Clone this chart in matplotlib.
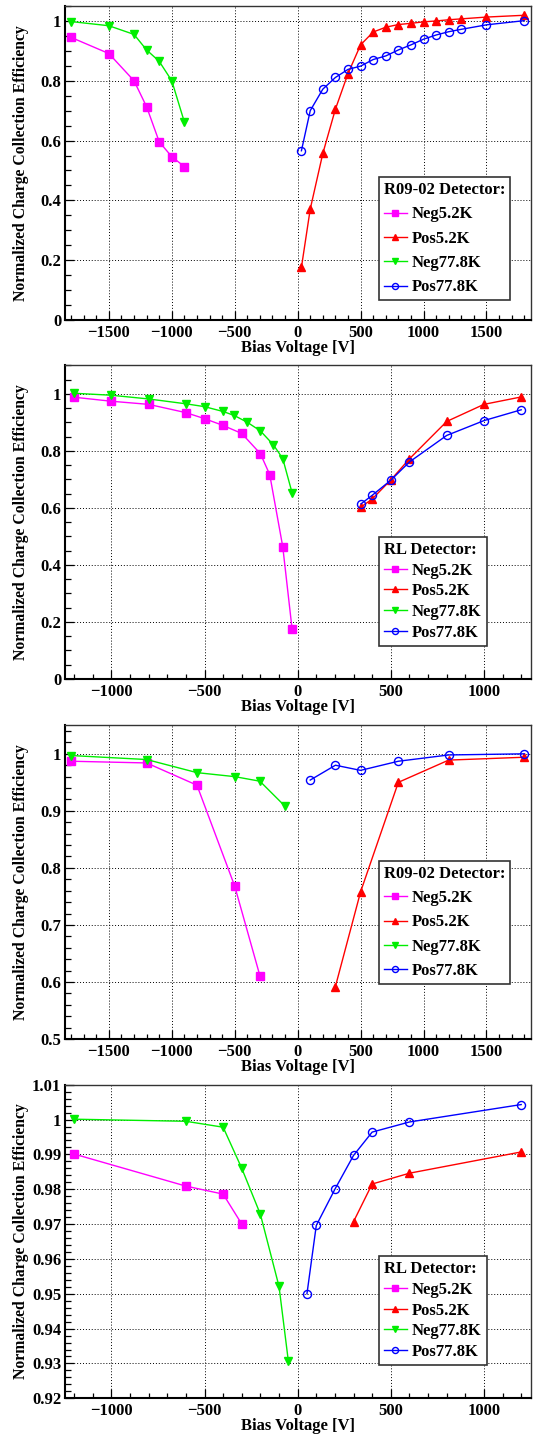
import numpy as np
import matplotlib
matplotlib.use("Agg")
import matplotlib.pyplot as plt
from matplotlib.ticker import MultipleLocator, FuncFormatter

plt.rcParams['font.family'] = ['Liberation Serif', 'DejaVu Serif']
plt.rcParams['font.weight'] = 'bold'
plt.rcParams['axes.labelweight'] = 'bold'

# ---- panel 1: R09-02, wide range ----
p1_neg52_v = [-1800, -1500, -1300, -1200, -1100, -1000, -900]
p1_neg52_e = [0.945, 0.891, 0.800, 0.713, 0.596, 0.546, 0.513]
p1_neg78_v = [-1800, -1500, -1300, -1200, -1100, -1000, -900]
p1_neg78_e = [0.998, 0.984, 0.955, 0.903, 0.865, 0.800, 0.662]
p1_pos52_v = [30, 100, 200, 300, 400, 500, 600, 700, 800, 900, 1000, 1100, 1200, 1300, 1500, 1800]
p1_pos52_e = [0.176, 0.371, 0.557, 0.705, 0.824, 0.920, 0.963, 0.979, 0.988, 0.992,
              0.997, 1.000, 1.004, 1.007, 1.013, 1.019]
p1_pos78_v = [30, 100, 200, 300, 400, 500, 600, 700, 800, 900, 1000, 1100, 1200, 1300, 1500, 1800]
p1_pos78_e = [0.566, 0.700, 0.772, 0.811, 0.838, 0.849, 0.871, 0.883, 0.903, 0.920,
              0.939, 0.953, 0.964, 0.972, 0.987, 1.001]

# ---- panel 2: RL ----
p2_neg52_v = [-1200, -1000, -800, -600, -500, -400, -300, -200, -150, -80, -30]
p2_neg52_e = [0.988, 0.974, 0.963, 0.934, 0.913, 0.889, 0.861, 0.790, 0.717, 0.464, 0.176]
p2_neg78_v = [-1200, -1000, -800, -600, -500, -400, -340, -270, -200, -130, -80, -30]
p2_neg78_e = [1.002, 0.995, 0.982, 0.965, 0.955, 0.938, 0.924, 0.900, 0.870, 0.821, 0.773, 0.653]
p2_pos52_v = [340, 400, 500, 600, 800, 1000, 1200]
p2_pos52_e = [0.603, 0.631, 0.698, 0.772, 0.903, 0.963, 0.989]
p2_pos78_v = [340, 400, 500, 600, 800, 1000, 1200]
p2_pos78_e = [0.614, 0.644, 0.697, 0.761, 0.854, 0.906, 0.944]

# ---- panel 3: R09-02, zoomed ----
p3_neg52_v = [-1800, -1200, -800, -500, -300]
p3_neg52_e = [0.987, 0.984, 0.945, 0.768, 0.611]
p3_neg78_v = [-1800, -1200, -800, -500, -300, -100]
p3_neg78_e = [0.997, 0.990, 0.967, 0.960, 0.952, 0.908]
p3_pos52_v = [300, 500, 800, 1200, 1800]
p3_pos52_e = [0.592, 0.758, 0.950, 0.989, 0.994]
p3_pos78_v = [100, 300, 500, 800, 1200, 1800]
p3_pos78_e = [0.954, 0.980, 0.971, 0.987, 0.998, 1.000]

# ---- panel 4: RL, zoomed ----
p4_neg52_v = [-1200, -600, -400, -300]
p4_neg52_e = [0.9901, 0.9809, 0.9786, 0.9700]
p4_neg78_v = [-1200, -600, -400, -300, -200, -100, -50]
p4_neg78_e = [1.0001, 0.9995, 0.9978, 0.9860, 0.9728, 0.9521, 0.9307]
p4_pos52_v = [300, 400, 600, 1200]
p4_pos52_e = [0.9707, 0.9815, 0.9846, 0.9907]
p4_pos78_v = [50, 100, 200, 300, 400, 600, 1200]
p4_pos78_e = [0.9500, 0.9696, 0.9800, 0.9897, 0.9964, 0.9993, 1.0043]

labels = ["Neg5.2K", "Pos5.2K", "Neg77.8K", "Pos77.8K"]
styles = [dict(color="#ff00ff", marker="s", ms=5.2, mfc="#ff00ff"),
          dict(color="#ff0000", marker="^", ms=5.2, mfc="#ff0000"),
          dict(color="#00ee00", marker="v", ms=5.2, mfc="#00ee00"),
          dict(color="#0000ff", marker="o", ms=5.8, mfc="none", mew=1.0)]

panels = [
    dict(data=[(p1_neg52_v, p1_neg52_e), (p1_pos52_v, p1_pos52_e),
               (p1_neg78_v, p1_neg78_e), (p1_pos78_v, p1_pos78_e)],
         xlim=(-1850, 1850), ylim=(0, 1.05), ymaj=0.2, ymin=0.05,
         title="R09-02 Detector:", leg_y=0.455, lsp=0.5, top=6, bot=320),
    dict(data=[(p2_neg52_v, p2_neg52_e), (p2_pos52_v, p2_pos52_e),
               (p2_neg78_v, p2_neg78_e), (p2_pos78_v, p2_pos78_e)],
         xlim=(-1250, 1250), ylim=(0, 1.1), ymaj=0.2, ymin=0.05,
         title="RL Detector:", leg_y=0.453, lsp=0.28, top=365.3, bot=679),
    dict(data=[(p3_neg52_v, p3_neg52_e), (p3_pos52_v, p3_pos52_e),
               (p3_neg78_v, p3_neg78_e), (p3_pos78_v, p3_pos78_e)],
         xlim=(-1850, 1850), ylim=(0.5, 1.05), ymaj=0.1, ymin=0.02,
         title="R09-02 Detector:", leg_y=0.568, lsp=0.5, top=725.3, bot=1039),
    dict(data=[(p4_neg52_v, p4_neg52_e), (p4_pos52_v, p4_pos52_e),
               (p4_neg78_v, p4_neg78_e), (p4_pos78_v, p4_pos78_e)],
         xlim=(-1250, 1250), ylim=(0.92, 1.01), ymaj=0.01, ymin=0.002,
         title="RL Detector:", leg_y=0.453, lsp=0.28, top=1084.7, bot=1398.3),
]

W, H = 535, 1435
fig = plt.figure(figsize=(W / 100, H / 100), dpi=100)
fmt = FuncFormatter(lambda v, p: ("%g" % round(v, 6)).replace("-", "\u2212"))

for P in panels:
    x0, x1 = 64.8, 530.5
    ax = fig.add_axes([x0 / W, 1 - P["bot"] / H, (x1 - x0) / W, (P["bot"] - P["top"]) / H])
    for (v, e), lab, st in zip(P["data"], labels, styles):
        ax.plot(v, e, lw=1.0, label=lab, **st)
    ax.set_xlim(*P["xlim"]); ax.set_ylim(*P["ylim"])
    ax.xaxis.set_major_locator(MultipleLocator(500)); ax.xaxis.set_minor_locator(MultipleLocator(100))
    ax.yaxis.set_major_locator(MultipleLocator(P["ymaj"])); ax.yaxis.set_minor_locator(MultipleLocator(P["ymin"]))
    ax.xaxis.set_major_formatter(fmt); ax.yaxis.set_major_formatter(fmt)
    ax.tick_params(which="both", direction="in", labelsize=12, width=0.9, top=False, right=False)
    ax.tick_params(axis="x", which="major", length=6.5, pad=3.5)
    ax.tick_params(axis="x", which="minor", length=3.6)
    ax.tick_params(axis="y", which="major", length=6.5, pad=2.5)
    ax.tick_params(axis="y", which="minor", length=4.3)
    ax.grid(True, which="major", color="black", linestyle=(0, (1, 2)), linewidth=0.7)
    ax.set_axisbelow(True)
    for s in ("left", "bottom"):
        ax.spines[s].set_linewidth(1.5)
    for s in ("top", "right"):
        ax.spines[s].set_linewidth(1.0); ax.spines[s].set_color("#333333")
    ax.set_xlabel("Bias Voltage [V]", fontsize=12, va="top")
    ax.set_ylabel("Normalized Charge Collection Efficiency", fontsize=11.3)
    hpx = P["bot"] - P["top"]
    ax.xaxis.set_label_coords(0.5, -20 / hpx)
    ax.yaxis.set_label_coords(-36 / (x1 - x0), 0.5)
    leg = ax.legend(loc="upper left", bbox_to_anchor=(0.674, P["leg_y"]), borderaxespad=0,
                    title=P["title"], title_fontproperties=dict(weight="bold", size=12),
                    prop=dict(weight="bold", size=12), alignment="left",
                    fancybox=False, framealpha=1, edgecolor="#333333",
                    handlelength=1.4, handletextpad=0.3, labelspacing=P["lsp"],
                    borderpad=0.3, markerscale=0.75)
    leg.get_frame().set_linewidth(1.2)

fig.savefig("out.png", dpi=100)
